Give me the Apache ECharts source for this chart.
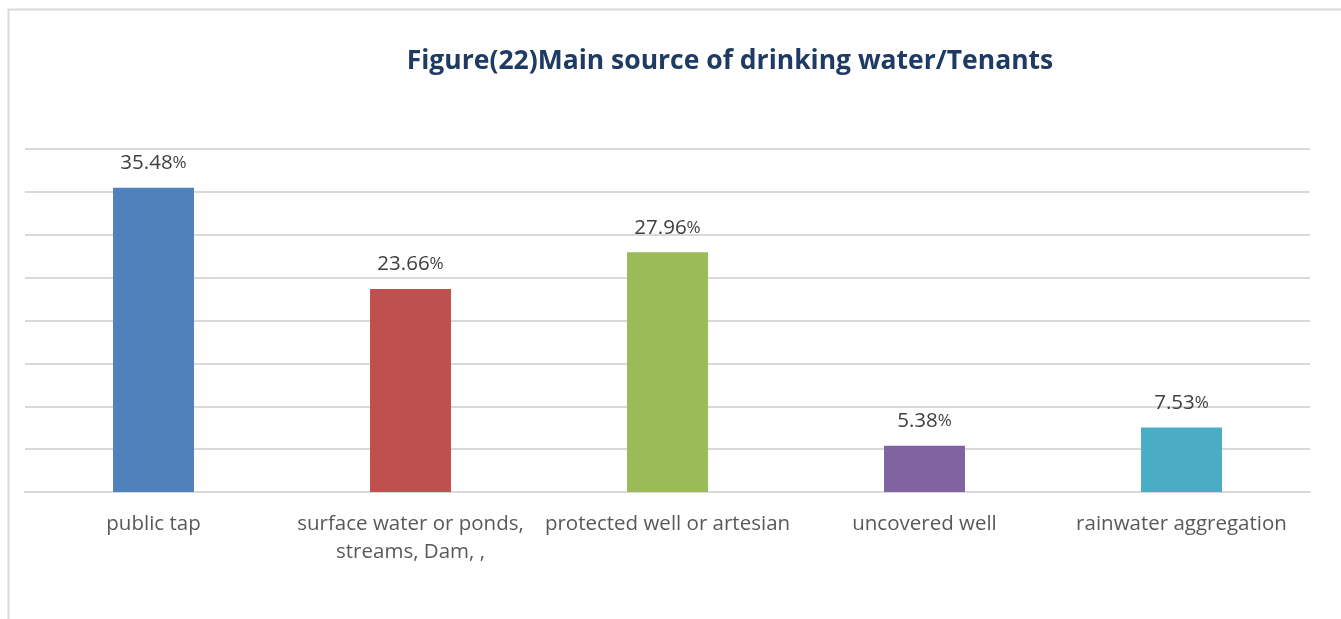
<!DOCTYPE html>
<html>
<head>
<meta charset="utf-8">
<style>
  html, body { margin: 0; padding: 0; background: #ffffff; }
  #chart { width: 1341px; height: 619px; }
</style>
<script src="https://cdn.jsdelivr.net/npm/echarts@6/dist/echarts.min.js"></script>
</head>
<body>
<div id="chart"></div>
<script>
// Main source of drinking water among tenants (percent of households)
const chartTitle = 'Figure(22)Main source of drinking water/Tenants';
const categories = [
  'public tap',
  'surface water or ponds,\nstreams, Dam, ,',
  'protected well or artesian',
  'uncovered well',
  'rainwater aggregation'
];
const shares = [35.48, 23.66, 27.96, 5.38, 7.53];
const barColors = ['#4F81BD', '#C0504D', '#9BBB59', '#8064A2', '#4BACC6'];

const FONT = '"Open Sans", Lato, sans-serif';

const chart = echarts.init(document.getElementById('chart'), null, { renderer: 'canvas' });

chart.setOption({
  backgroundColor: '#ffffff',
  animation: false,
  title: {
    text: chartTitle,
    left: 725,
    textAlign: 'center',
    top: 43,
    textStyle: { fontFamily: FONT, fontSize: 26.5, fontWeight: 'bold', color: '#1F3B63' }
  },
  graphic: [{
    type: 'rect',
    left: 6, top: 7,
    shape: { width: 1400, height: 700 },
    style: { fill: 'none', stroke: '#D9D9D9', lineWidth: 2 },
    silent: true
  }],
  grid: { left: 25, right: 31, top: 149, bottom: 127, containLabel: false },
  xAxis: {
    type: 'category',
    data: categories,
    axisLine: { show: true, lineStyle: { color: '#D9D9D9', width: 2 } },
    axisTick: { show: false },
    axisLabel: {
      interval: 0,
      margin: 18,
      fontFamily: FONT,
      fontSize: 20.5,
      color: '#595959',
      lineHeight: 28
    }
  },
  yAxis: {
    type: 'value',
    min: 0,
    max: 40,
    interval: 5,
    axisLabel: { show: false },
    axisLine: { show: false },
    axisTick: { show: false },
    splitLine: { show: true, lineStyle: { color: '#D9D9D9', width: 2 } }
  },
  series: [{
    type: 'bar',
    barWidth: '31.5%',
    data: shares.map((v, i) => ({ value: v, itemStyle: { color: barColors[i] } })),
    label: {
      show: true,
      position: 'top',
      distance: 14,
      formatter: (p) => '{n|' + p.value.toFixed(2) + '}{p|%}',
      rich: {
        n: { fontFamily: FONT, fontSize: 20.5, color: '#404040' },
        p: { fontFamily: FONT, fontSize: 17, color: '#404040' }
      }
    }
  }]
});
</script>
</body>
</html>
